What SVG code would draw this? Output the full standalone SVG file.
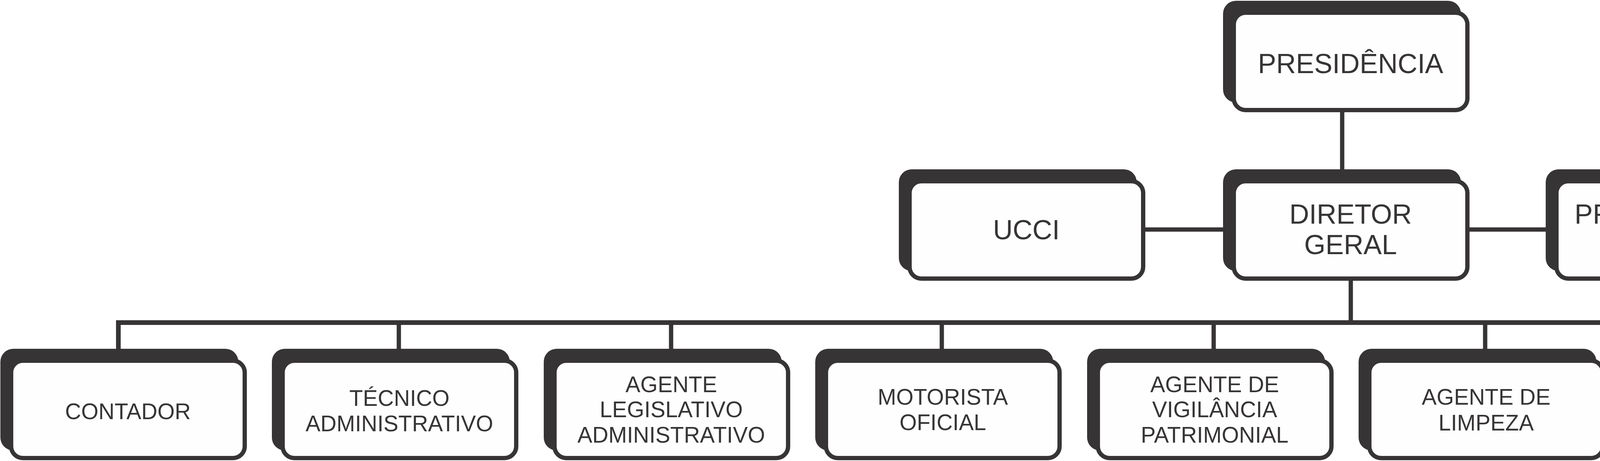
<svg xmlns="http://www.w3.org/2000/svg" width="6894" height="1179" viewBox="0 0 6894 1179">
<style>
.sh{fill:#373435;stroke:none}
.fr{fill:#FEFEFE;stroke:#373435;stroke-width:11}
.ln{fill:none;stroke:#373435;stroke-width:11;stroke-linejoin:miter;stroke-linecap:butt}
.bus{stroke-width:12}
text{font-family:"Liberation Sans",Arial,sans-serif;fill:#373435;text-anchor:middle}
.t1{font-size:70px}
.t2{font-size:57px}
</style>
<rect width="6894" height="1179" fill="#FFFFFF"/>
<g id="connectors">
<path class="ln" d="M3436,287 V433"/>
<path class="ln" d="M2932,587 H3131"/>
<path class="ln" d="M3762,587 H3957"/>
<path class="ln" d="M3458,718 V825"/>
<path class="ln bus" d="M303,892 V825 H6565 V892"/>
<path class="ln" d="M1021,825 V892 M1718,825 V892 M2411,825 V892 M3107,825 V892 M3802,825 V892 M4497,825 V892 M5193,825 V892 M5887,825 V892"/>
</g>
<g id="presidencia">
<rect class="sh" x="3131" y="2" width="609" height="260" rx="33"/>
<rect class="fr" x="3158.5" y="32.5" width="598" height="249" rx="30"/>
<text class="t1" x="3457.5" y="187">PRESIDÊNCIA</text>
</g>
<g id="diretor-geral">
<rect class="sh" x="3131" y="433" width="609" height="260" rx="33"/>
<rect class="fr" x="3158.5" y="463.5" width="598" height="249" rx="30"/>
<text class="t1" x="3457.5" y="572">DIRETOR</text>
<text class="t1" x="3457.5" y="650">GERAL</text>
</g>
<g id="ucci">
<rect class="sh" x="2301" y="433" width="609" height="260" rx="33"/>
<rect class="fr" x="2328.5" y="463.5" width="598" height="249" rx="30"/>
<text class="t1" x="2627.5" y="612">UCCI</text>
</g>
<g id="procurador-juridico">
<rect class="sh" x="3957" y="433" width="609" height="260" rx="33"/>
<rect class="fr" x="3984.5" y="463.5" width="598" height="249" rx="30"/>
<text class="t1" x="4283.5" y="572">PROCURADOR</text>
<text class="t1" x="4283.5" y="650">JURÍDICO</text>
</g>
<g id="contador">
<rect class="sh" x="1" y="892" width="609" height="260" rx="33"/>
<rect class="fr" x="28.5" y="922.5" width="598" height="249" rx="30"/>
<text class="t2" x="327.5" y="1072">CONTADOR</text>
</g>
<g id="tecnico-administrativo">
<rect class="sh" x="696" y="892" width="609" height="260" rx="33"/>
<rect class="fr" x="723.5" y="922.5" width="598" height="249" rx="30"/>
<text class="t2" x="1022.5" y="1038">TÉCNICO</text>
<text class="t2" x="1022.5" y="1103">ADMINISTRATIVO</text>
</g>
<g id="agente-legislativo-administrativo">
<rect class="sh" x="1392" y="892" width="609" height="260" rx="33"/>
<rect class="fr" x="1419.5" y="922.5" width="598" height="249" rx="30"/>
<text class="t2" x="1718.5" y="1003">AGENTE</text>
<text class="t2" x="1718.5" y="1067">LEGISLATIVO</text>
<text class="t2" x="1718.5" y="1132">ADMINISTRATIVO</text>
</g>
<g id="motorista-oficial">
<rect class="sh" x="2087" y="892" width="609" height="260" rx="33"/>
<rect class="fr" x="2114.5" y="922.5" width="598" height="249" rx="30"/>
<text class="t2" x="2413.5" y="1035">MOTORISTA</text>
<text class="t2" x="2413.5" y="1100">OFICIAL</text>
</g>
<g id="agente-vigilancia-patrimonial">
<rect class="sh" x="2783" y="892" width="609" height="260" rx="33"/>
<rect class="fr" x="2810.5" y="922.5" width="598" height="249" rx="30"/>
<text class="t2" x="3109.5" y="1003">AGENTE DE</text>
<text class="t2" x="3109.5" y="1067">VIGILÂNCIA</text>
<text class="t2" x="3109.5" y="1132">PATRIMONIAL</text>
</g>
<g id="agente-limpeza">
<rect class="sh" x="3478" y="892" width="609" height="260" rx="33"/>
<rect class="fr" x="3505.5" y="922.5" width="598" height="249" rx="30"/>
<text class="t2" x="3804.5" y="1035">AGENTE DE</text>
<text class="t2" x="3804.5" y="1101">LIMPEZA</text>
</g>
<g id="auxiliar-servicos-gerais">
<rect class="sh" x="4173" y="892" width="609" height="260" rx="33"/>
<rect class="fr" x="4200.5" y="922.5" width="598" height="249" rx="30"/>
<text class="t2" x="4499.5" y="1028">AUXILIAR DE</text>
<text class="t2" x="4499.5" y="1094">SERVIÇOS GERAIS</text>
</g>
<g id="chefe-setor-legislativo">
<rect class="sh" x="4869" y="892" width="609" height="260" rx="33"/>
<rect class="fr" x="4896.5" y="922.5" width="598" height="249" rx="30"/>
<text class="t2" x="5195.5" y="1028">CHEFE SETOR</text>
<text class="t2" x="5195.5" y="1094">LEGISLATIVO</text>
</g>
<g id="chefe-gabinete">
<rect class="sh" x="5564" y="892" width="609" height="260" rx="33"/>
<rect class="fr" x="5591.5" y="922.5" width="598" height="249" rx="30"/>
<text class="t2" x="5890.5" y="1036">CHEFE DE</text>
<text class="t2" x="5890.5" y="1101">GABINETE</text>
</g>
<g id="assessor-imprensa-comunicacao">
<rect class="sh" x="6260" y="892" width="609" height="260" rx="33"/>
<rect class="fr" x="6287.5" y="922.5" width="598" height="249" rx="30"/>
<text class="t2" x="6586.5" y="997">ASSESSOR DE</text>
<text class="t2" x="6586.5" y="1062">IMPRENSA E</text>
<text class="t2" x="6586.5" y="1127">COMUNICAÇÃO</text>
</g>
</svg>
